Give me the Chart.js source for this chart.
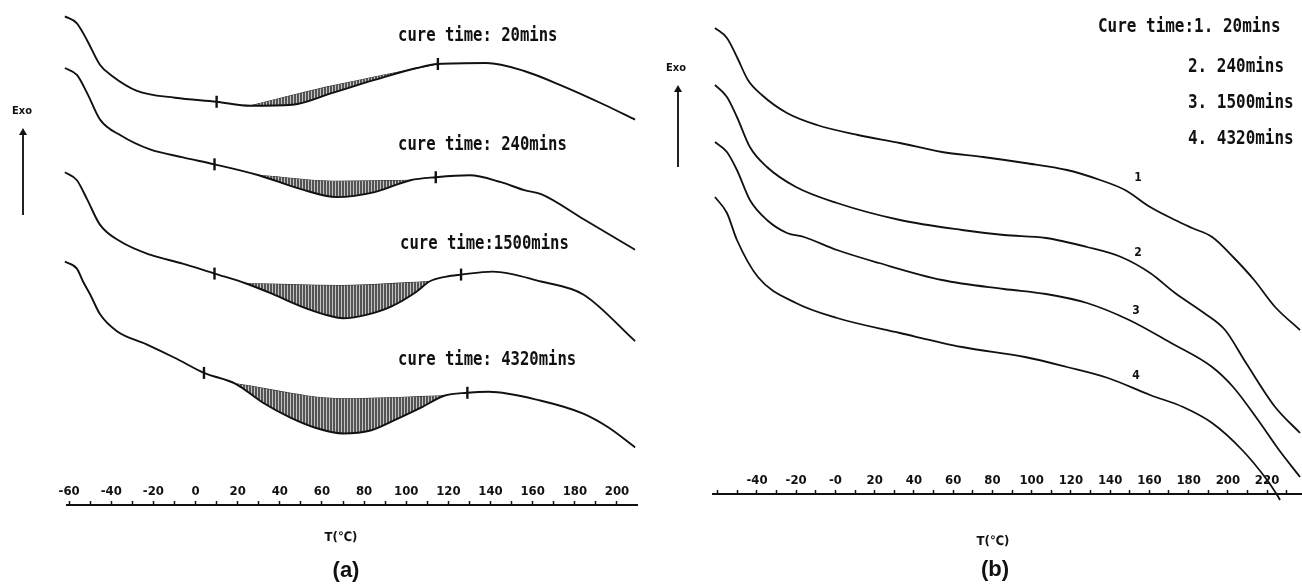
<!DOCTYPE html>
<html>
<head>
<meta charset="utf-8">
<script src="https://cdn.jsdelivr.net/npm/chart.js@4.4.1/dist/chart.umd.min.js"></script>
<style>
html,body{margin:0;padding:0;background:#fff;}
#wrap{position:relative;width:1302px;height:584px;overflow:hidden;background:#fff;}
canvas{position:absolute;top:0;}
#ca{left:0;}
#cb{left:650px;}
.t{position:absolute;white-space:nowrap;color:#111;line-height:1;font-weight:bold;}
.ann{font-family:'DejaVu Sans Mono','Liberation Mono',monospace;font-size:19px;transform:translateY(-50%) scaleX(0.82);transform-origin:left center;}
.leg{font-family:'DejaVu Sans Mono','Liberation Mono',monospace;font-size:19px;transform:translateY(-50%) scaleX(0.84);transform-origin:left center;}
.sm{font-family:'Liberation Sans Narrow','DejaVu Sans Condensed','DejaVu Sans',sans-serif;transform:translate(-50%,-50%);}
.pl{font-family:'Liberation Sans',Arial,sans-serif;font-size:22px;transform:translate(-50%,-50%);}
.arrow{position:absolute;width:0;border-left:2px solid #222;}
.arrow::before{content:"";position:absolute;left:-5px;top:-5px;border-left:4px solid transparent;border-right:4px solid transparent;border-bottom:7px solid #111;}
</style>
</head>
<body>
<div id="wrap">
<canvas id="ca" width="650" height="584"></canvas>
<canvas id="cb" width="652" height="584"></canvas>

<div class="t sm" style="left:22px;top:110px;font-size:11px;">Exo</div>
<div class="arrow" style="left:22px;top:133px;height:82px;"></div>
<div class="t sm" style="left:676px;top:67px;font-size:11px;">Exo</div>
<div class="arrow" style="left:677px;top:90px;height:77px;"></div>

<div class="t ann" style="left:398px;top:34px;">cure time: 20mins</div>
<div class="t ann" style="left:398px;top:143px;">cure time: 240mins</div>
<div class="t ann" style="left:400px;top:242px;">cure time:1500mins</div>
<div class="t ann" style="left:398px;top:358px;">cure time: 4320mins</div>

<div class="t leg" style="left:1098px;top:25px;">Cure time:1. 20mins</div>
<div class="t leg" style="left:1188px;top:65px;">2. 240mins</div>
<div class="t leg" style="left:1188px;top:101px;">3. 1500mins</div>
<div class="t leg" style="left:1188px;top:137px;">4. 4320mins</div>

<div class="t sm" style="left:1138px;top:177px;font-size:12px;">1</div>
<div class="t sm" style="left:1138px;top:252px;font-size:12px;">2</div>
<div class="t sm" style="left:1136px;top:310px;font-size:12px;">3</div>
<div class="t sm" style="left:1136px;top:375px;font-size:12px;">4</div>

<div class="t sm" style="left:341px;top:536px;font-size:13px;">T(℃)</div>
<div class="t sm" style="left:993px;top:540px;font-size:13px;">T(℃)</div>
<div class="t pl" style="left:346px;top:570px;">(a)</div>
<div class="t pl" style="left:995px;top:569px;">(b)</div>
</div>

<script>
// ---------- Panel (a): DSC curves, T (°C) vs heat flow (arbitrary units, exo up) ----------
const tempA1 = [-62,-56.3,-51.5,-45.3,-39.6,-27.8,-9.7,10,26,46,65,85,105,115,138,156,174,194,208.6];
const flowA1 = [98.4,97.0,93.6,88.6,86.4,83.4,82.0,81.2,80.4,80.6,83.0,85.6,88.0,88.8,89.0,87.4,84.4,80.6,77.6];

const tempA2 = [-62,-56.3,-51.5,-45.3,-35.4,-21.6,-6,9,30,50,67,85,102,114,130,145,156,164,184,208.6];
const flowA2 = [88.0,86.6,83.0,77.6,74.4,71.6,70.0,68.6,66.4,63.6,62.0,63.0,65.4,66.0,66.4,65.0,63.4,62.6,57.6,51.4];

const tempA3 = [-62,-56.3,-51.5,-45.3,-35.4,-21.6,-6.1,9,24,37,50,61,70,82,93,105,111,119,126,141,164,184,208.6];
const flowA3 = [67.0,65.4,61.6,56.4,53.0,50.4,48.6,46.6,44.6,42.4,40.0,38.4,37.6,38.4,40.0,43.0,45.0,46.0,46.4,47.0,45.0,42.4,33.0];

const tempA4 = [-62,-56.3,-53.4,-50,-45.3,-37.3,-23.5,-9.7,4,19,32,45,58,70,83,96,107,118,129,139,164,184,196,208.6];
const flowA4 = [49.0,47.6,45.0,42.4,38.4,35.0,32.4,29.6,26.6,24.4,20.6,17.6,15.4,14.4,15.0,17.4,19.6,22.0,22.6,22.8,21.0,18.4,15.6,11.6];

// integration markers (temperatures) and shaded-peak baselines
const markTA = [[10,115],[9,114],[9,126],[4,129]];
const baseTA = [[26,65,115],[30,67,102],[24,70,111],[19,70,118]];
const baseQA = [[80.4,84.4,88.8],[66.4,65.2,65.4],[44.6,44.2,45.0],[24.4,21.4,22.0]];

const ticksA = [-60,-50,-40,-30,-20,-10,0,10,20,30,40,50,60,70,80,90,100,110,120,130,140,150,160,170,180,190,200];
const majorA = [-60,-40,-20,0,20,40,60,80,100,120,140,160,180,200];
const tickLabelsA = ['-60','-40','-20','0','20','40','60','80','100','120','140','160','180','200'];

// ---------- Panel (b) ----------
const tempB1 = [-61.4,-55.3,-50.2,-44.6,-37.5,-24.7,-9.4,11.5,32.9,54.3,75.2,96.6,118,134.9,147.6,160.4,173.1,181.8,192,202.7,213.4,224.1,236.8];
const flowB1 = [93.2,91.2,87.4,82.8,79.8,76.2,73.8,71.8,70.2,68.4,67.4,66.2,64.8,62.8,60.8,57.4,54.8,53.2,51.4,47.4,42.8,37.4,32.8];

const tempB2 = [-61.4,-55.3,-50.2,-43.6,-34.9,-20.1,0.8,32.9,64.5,85.9,107.3,128.2,145.6,160.4,173.1,187.9,198.6,209.3,224.1,236.8];
const flowB2 = [81.8,79.4,75.4,69.4,65.4,61.4,58.2,54.8,52.8,51.8,51.2,49.4,47.4,44.2,40.2,36.2,32.8,26.2,17.4,12.2];

const tempB3 = [-61.4,-55.3,-50.2,-43.6,-34.9,-24.7,-16,0.8,22.2,54.3,85.9,107.3,128.2,149.7,171.1,192,202.7,215.4,226.1,236.8];
const flowB3 = [70.4,68.4,64.8,58.8,54.8,52.2,51.4,48.8,46.2,42.8,41.0,40.0,38.2,34.8,30.2,25.4,21.4,14.8,8.8,3.4];

const tempB4 = [-61.4,-55.3,-50.2,-39.5,-20.1,0.8,32.9,64.5,96.6,118,138.9,160.4,177.2,192,207.3,220,225.1,226.6];
const flowB4 = [59.4,56.2,50.8,43.4,38.2,35.2,32.2,29.4,27.4,25.4,23.2,19.8,17.4,14.2,8.8,2.8,-0.2,-1.2];

const ticksB = [-60,-50,-40,-30,-20,-10,0,10,20,30,40,50,60,70,80,90,100,110,120,130,140,150,160,170,180,190,200,210,220,230];
const majorB = [-40,-20,0,20,40,60,80,100,120,140,160,180,200,220];
const tickLabelsB = ['-40','-20','-0','20','40','60','80','100','120','140','160','180','200','220'];

// ---------- helpers ----------
const INK = '#111111';
function toPts(T, Q){ return T.map((t,i)=>({x:t, y:Q[i]})); }
function curveDS(T, Q, extra){
  return Object.assign({data: toPts(T,Q), borderColor: INK, borderWidth: 1.9, pointRadius: 0,
    fill: false, cubicInterpolationMode: 'monotone', clip: false}, extra || {});
}
function hatchPattern(){
  const c = document.createElement('canvas'); c.width = 3; c.height = 4;
  const g = c.getContext('2d');
  g.fillStyle = '#545454'; g.fillRect(0,0,3,4);
  g.fillStyle = '#c4c4c4'; g.fillRect(2,0,1,4);
  return g.createPattern(c, 'repeat');
}
const tickFont = {family: "'Liberation Sans Narrow','DejaVu Sans Condensed','DejaVu Sans',sans-serif", size: 13, weight: 'bold'};
function xScale(min, max, ticks, major, labels){
  return {
    type: 'linear', min: min, max: max,
    afterFit: s => { s.height = 0; },
    afterBuildTicks: s => { s.ticks = ticks.map(v => ({value: v})); },
    ticks: {autoSkip: false, maxRotation: 0, minRotation: 0, mirror: true, padding: 6, color: '#111', font: tickFont,
      callback: v => { const k = major.indexOf(v); return k >= 0 ? labels[k] : ''; }},
    grid: {display: true, drawOnChartArea: false, drawTicks: true, tickLength: -4, tickWidth: 1.5, tickColor: '#111'},
    border: {display: true, color: '#111', width: 2}
  };
}
function baseOpts(pad, xs, ymax){
  return {
    responsive: false, animation: false, devicePixelRatio: 1, events: [],
    layout: {padding: pad},
    plugins: {legend: {display: false}, tooltip: {enabled: false}},
    scales: {x: xs, y: {display: false, min: 0, max: ymax}}
  };
}

// ---------- chart (a) ----------
const pat = hatchPattern();
const curvesA = [[tempA1,flowA1],[tempA2,flowA2],[tempA3,flowA3],[tempA4,flowA4]];
const dsA = [];
curvesA.forEach((c, i) => {
  const T = c[0], Q = c[1];
  dsA.push(curveDS(T, Q, {fill: {target: '+1', above: pat, below: pat}}));
  dsA.push(curveDS(baseTA[i], baseQA[i], {borderWidth: 1.1, borderColor: '#2a2a2a'}));
  dsA.push({data: markTA[i].map(t => ({x: t, y: Q[T.indexOf(t)]})), showLine: false,
    pointStyle: 'line', pointRotation: 90, pointRadius: 6, pointBorderWidth: 2.4,
    pointBorderColor: '#111', borderColor: '#111', clip: false});
});
new Chart(document.getElementById('ca'), {
  type: 'line',
  data: {datasets: dsA},
  options: baseOpts({left: 67, right: 13, top: 5, bottom: 79},
    xScale(-61, 209.5, ticksA, majorA, tickLabelsA), 100)
});

// ---------- chart (b) ----------
const curvesB = [[tempB1,flowB1],[tempB2,flowB2],[tempB3,flowB3],[tempB4,flowB4]];
new Chart(document.getElementById('cb'), {
  type: 'line',
  data: {datasets: curvesB.map(c => curveDS(c[0], c[1], {borderWidth: 1.8}))},
  options: baseOpts({left: 63, right: 0, top: 5, bottom: 90},
    xScale(-62.4, 237.8, ticksB, majorB, tickLabelsB), 97.8)
});
</script>
</body>
</html>
